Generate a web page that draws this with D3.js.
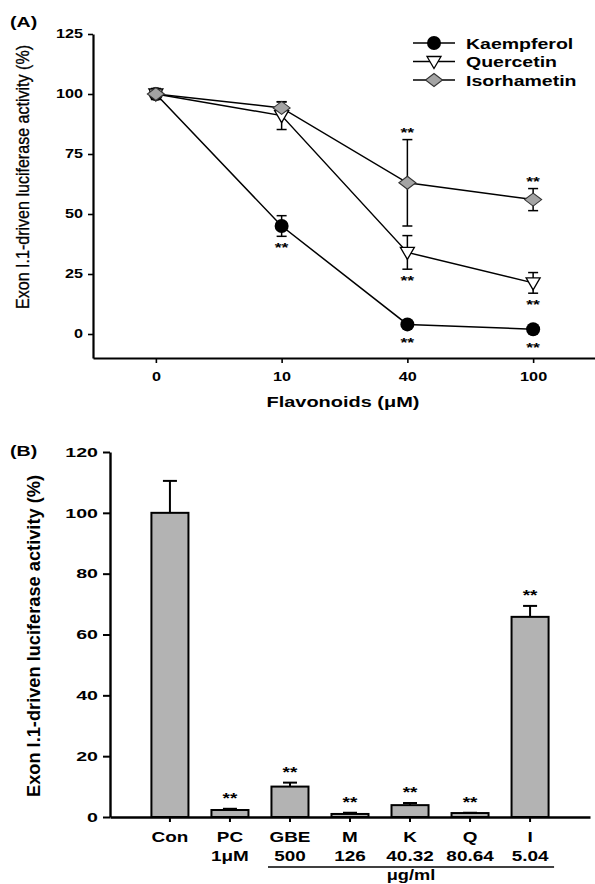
<!DOCTYPE html>
<html>
<head>
<meta charset="utf-8">
<script src="https://cdn.jsdelivr.net/npm/d3@7"></script>
<style>
  body { margin: 0; background: #fff; }
  svg { display: block; font-family: "Liberation Sans", Arial, sans-serif; }
</style>
</head>
<body>
<svg id="fig" width="595" height="884"></svg>
<script>
// ---- panel A data: dose response ----
const doses = ["0", "10", "40", "100"];
const seriesNames = ["Kaempferol", "Quercetin", "Isorhametin"];
const kaempferolMean = [100, 45, 4, 2];
const kaempferolErr = [2, 4.3, 1, 0.5];
const quercetinMean = [100, 91, 34, 21.3];
const quercetinErr = [1.5, 5.8, 7, 4.3];
const isorhametinMean = [100, 94.2, 63, 56];
const isorhametinErr = [2.3, 2.5, 18, 4.6];
// significance marks: "" none, "below" / "above" the point
const kaempferolSig = ["", "below", "below", "below"];
const quercetinSig = ["", "", "below", "below"];
const isorhametinSig = ["", "", "above", "above"];
const yTicksA = [0, 25, 50, 75, 100, 125];

// ---- panel B data: treatments ----
const groups = ["Con", "PC", "GBE", "M", "K", "Q", "I"];
const groupDose = ["", "1\u03bcM", "500", "126", "40.32", "80.64", "5.04"];
const barMean = [100, 2.3, 10, 1, 3.9, 1.3, 65.8];
const barErr = [10.5, 0.4, 1.3, 0.4, 0.7, 0.1, 3.6];
const barSig = ["", "**", "**", "**", "**", "**", "**"];
const yTicksB = [0, 20, 40, 60, 80, 100, 120];
const unitLabel = "\u03bcg/ml";

const STRETCH = 1.35;
const svg = d3.select("#fig");

// glyphs in the source are horizontally stretched; widen text to match
function stretch(sel, k) {
  sel.each(function () {
    const w = this.getComputedTextLength();
    this.setAttribute("textLength", w * k);
    this.setAttribute("lengthAdjust", "spacingAndGlyphs");
  });
}

// ================= PANEL A =================
const xA = d3.scalePoint().domain(doses).range([93, 596]).padding(0.5);
const yA = d3.scaleLinear().domain([-10, 125]).range([358, 34]);

const gA = svg.append("g");

const axAy = gA.append("g")
  .attr("transform", "translate(93,0)")
  .call(d3.axisLeft(yA).tickValues(yTicksA).tickSize(5).tickSizeOuter(0).tickPadding(5));
const axAx = gA.append("g")
  .attr("transform", "translate(0,358)")
  .call(d3.axisBottom(xA).tickSize(5).tickSizeOuter(0).tickPadding(9));

[axAy, axAx].forEach((ax) => {
  ax.select(".domain").attr("stroke", "#000").attr("stroke-width", 2.2);
  ax.selectAll(".tick line").attr("stroke", "#000").attr("stroke-width", 1.6);
  ax.selectAll(".tick text")
    .attr("fill", "#000")
    .attr("font-family", "Liberation Sans, Arial, sans-serif")
    .attr("font-size", 12)
    .attr("font-weight", "bold");
});
stretch(axAy.selectAll(".tick text"), STRETCH);
stretch(axAx.selectAll(".tick text"), STRETCH);

const seriesA = [
  { name: seriesNames[0], mean: kaempferolMean, err: kaempferolErr, sig: kaempferolSig, shape: "circle" },
  { name: seriesNames[1], mean: quercetinMean, err: quercetinErr, sig: quercetinSig, shape: "triangle" },
  { name: seriesNames[2], mean: isorhametinMean, err: isorhametinErr, sig: isorhametinSig, shape: "diamond" },
];

function drawMarker(g, shape) {
  if (shape === "circle") {
    g.append("circle").attr("r", 7).attr("fill", "#000");
  } else if (shape === "triangle") {
    g.append("path").attr("d", "M-7,-5L7,-5L0,7Z")
      .attr("fill", "#fff").attr("stroke", "#000").attr("stroke-width", 1.3);
  } else {
    g.append("path").attr("d", "M0,-6.5L8.5,0L0,6.5L-8.5,0Z")
      .attr("fill", "#a4a4a4").attr("stroke", "#333").attr("stroke-width", 1.1);
  }
}

const line = d3.line().x((d, i) => xA(doses[i])).y((d) => yA(d));

seriesA.forEach((s) => {
  gA.append("path")
    .attr("d", line(s.mean))
    .attr("fill", "none")
    .attr("stroke", "#000")
    .attr("stroke-width", 1.5);
});

seriesA.forEach((s) => {
  const eg = gA.append("g").attr("stroke", "#000").attr("stroke-width", 1.5);
  s.mean.forEach((m, i) => {
    const x = xA(doses[i]);
    const y1 = yA(m + s.err[i]);
    const y2 = yA(m - s.err[i]);
    eg.append("line").attr("x1", x).attr("x2", x).attr("y1", y1).attr("y2", y2);
    eg.append("line").attr("x1", x - 5).attr("x2", x + 5).attr("y1", y1).attr("y2", y1);
    eg.append("line").attr("x1", x - 5).attr("x2", x + 5).attr("y1", y2).attr("y2", y2);
  });
});

seriesA.forEach((s) => {
  s.mean.forEach((m, i) => {
    const g = gA.append("g").attr("transform", `translate(${xA(doses[i])},${yA(m)})`);
    drawMarker(g, s.shape);
  });
});

// asterisks
const starsA = gA.append("g").attr("font-size", 13).attr("font-weight", "bold").attr("text-anchor", "middle");
seriesA.forEach((s) => {
  s.mean.forEach((m, i) => {
    if (!s.sig[i]) return;
    const x = xA(doses[i]);
    let y;
    if (s.sig[i] === "below") {
      const low = Math.max(yA(m - s.err[i]), yA(m) + 7);
      y = low + 16;
    } else {
      const high = Math.min(yA(m + s.err[i]), yA(m) - 7);
      y = high - 3;
    }
    starsA.append("text").attr("x", x).attr("y", y).text("**");
  });
});
stretch(starsA.selectAll("text"), STRETCH);

// legend
const legA = gA.append("g");
seriesA.forEach((s, i) => {
  const cy = 43 + i * 18.5;
  legA.append("line").attr("x1", 413).attr("x2", 455).attr("y1", cy).attr("y2", cy)
    .attr("stroke", "#000").attr("stroke-width", 1.5);
  drawMarker(legA.append("g").attr("transform", `translate(434,${cy})`), s.shape);
  legA.append("text")
    .attr("x", 466).attr("y", cy + 5.5)
    .attr("font-size", 15).attr("font-weight", "bold")
    .text(s.name);
});
stretch(legA.selectAll("text"), 1.3);

// titles
const labA = gA.append("text").attr("x", 10).attr("y", 27)
  .attr("font-size", 14).attr("font-weight", "bold").text("(A)");
stretch(labA, 1.4);

const xTitleA = gA.append("text").attr("x", 343).attr("y", 407)
  .attr("text-anchor", "middle")
  .attr("font-size", 15).attr("font-weight", "bold")
  .text("Flavonoids (\u03bcM)");
stretch(xTitleA, 1.33);

gA.append("text")
  .attr("transform", "translate(29,177) rotate(-90) scale(1,1.22)")
  .attr("text-anchor", "middle")
  .attr("font-size", 15)
  .attr("textLength", 264).attr("lengthAdjust", "spacingAndGlyphs")
  .attr("stroke", "#000").attr("stroke-width", 0.25)
  .text("Exon I.1-driven luciferase activity (%)");

// ================= PANEL B =================
const xB = d3.scaleBand().domain(groups).range([110, 590]).paddingInner(0.383).paddingOuter(0.69);
const yB = d3.scaleLinear().domain([0, 120]).range([817, 452]);
const cx = (g) => xB(g) + xB.bandwidth() / 2;

const gB = svg.append("g");

// bars
gB.selectAll("rect.bar")
  .data(groups)
  .join("rect")
  .attr("class", "bar")
  .attr("x", (d) => xB(d))
  .attr("width", xB.bandwidth())
  .attr("y", (d, i) => yB(barMean[i]))
  .attr("height", (d, i) => yB(0) - yB(barMean[i]))
  .attr("fill", "#b3b3b3")
  .attr("stroke", "#000")
  .attr("stroke-width", 2);

// upward error bars
groups.forEach((g, i) => {
  const x = cx(g);
  const top = yB(barMean[i] + barErr[i]);
  gB.append("line").attr("x1", x).attr("x2", x).attr("y1", yB(barMean[i])).attr("y2", top)
    .attr("stroke", "#000").attr("stroke-width", 2);
  gB.append("line").attr("x1", x - 7).attr("x2", x + 7).attr("y1", top).attr("y2", top)
    .attr("stroke", "#000").attr("stroke-width", 2);
  if (barSig[i]) {
    gB.append("text").attr("class", "star")
      .attr("x", x).attr("y", top - 6)
      .attr("text-anchor", "middle")
      .attr("font-size", 14).attr("font-weight", "bold")
      .text(barSig[i]);
  }
});
stretch(gB.selectAll("text.star"), STRETCH);

const axBy = gB.append("g")
  .attr("transform", "translate(110,0)")
  .call(d3.axisLeft(yB).tickValues(yTicksB).tickSize(7).tickSizeOuter(0).tickPadding(5));
const axBx = gB.append("g")
  .attr("transform", "translate(0,817)")
  .call(d3.axisBottom(xB).tickSize(5).tickSizeOuter(0).tickFormat(""));

[axBy, axBx].forEach((ax) => {
  ax.select(".domain").attr("stroke", "#000").attr("stroke-width", 2.4);
  ax.selectAll(".tick line").attr("stroke", "#000").attr("stroke-width", 2);
});
axBy.selectAll(".tick text")
  .attr("fill", "#000")
  .attr("font-family", "Liberation Sans, Arial, sans-serif")
  .attr("font-size", 13.5)
  .attr("font-weight", "bold");
stretch(axBy.selectAll(".tick text"), 1.45);

// category labels, two rows
const catText = gB.append("g").attr("font-size", 14).attr("font-weight", "bold").attr("text-anchor", "middle");
groups.forEach((g, i) => {
  catText.append("text").attr("x", cx(g)).attr("y", 842).text(g);
  if (groupDose[i]) catText.append("text").attr("x", cx(g)).attr("y", 861).text(groupDose[i]);
});
stretch(catText.selectAll("text"), STRETCH);

// unit bracket under the extract doses
gB.append("line")
  .attr("x1", cx("GBE") - 22).attr("x2", cx("I") + 24)
  .attr("y1", 867).attr("y2", 867)
  .attr("stroke", "#000").attr("stroke-width", 1.5);
const unitT = gB.append("text")
  .attr("x", (cx("GBE") - 22 + cx("I") + 24) / 2).attr("y", 880)
  .attr("text-anchor", "middle")
  .attr("font-size", 14).attr("font-weight", "bold")
  .text(unitLabel);
stretch(unitT, 1.3);

const labB = gB.append("text").attr("x", 10).attr("y", 456)
  .attr("font-size", 14).attr("font-weight", "bold").text("(B)");
stretch(labB, 1.4);

gB.append("text")
  .attr("transform", "translate(40,636) rotate(-90)")
  .attr("text-anchor", "middle")
  .attr("font-size", 18).attr("font-weight", "bold")
  .attr("textLength", 322).attr("lengthAdjust", "spacingAndGlyphs")
  .text("Exon I.1-driven luciferase activity (%)");
</script>
</body>
</html>
